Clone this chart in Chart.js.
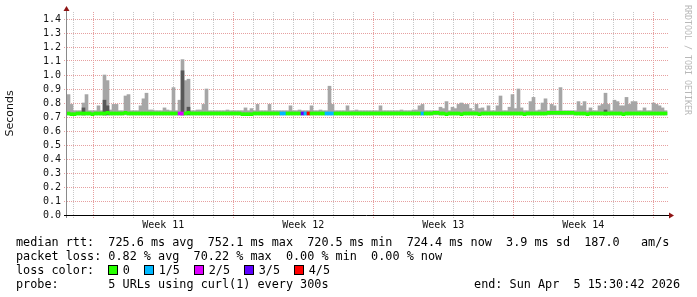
<!DOCTYPE html>
<html lang="en">
<head>
<meta charset="UTF-8">
<title>Smokeping median rtt</title>
<script src="https://cdn.jsdelivr.net/npm/chart.js"></script>
<style>
  body { margin: 0; background: #fff; }
  #wrap { position: relative; width: 697px; height: 297px; overflow: hidden; background: #fff; }
  #chart { position: absolute; left: 0; top: 0; }
  #legend { position: absolute; left: 16px; top: 235px; width: 670px; font-family: 'DejaVu Sans Mono', monospace; font-size: 11.8px; line-height: 14px; color: #000; }
  #legend div { position: relative; height: 14px; white-space: pre; }
  .box { display: inline-block; width: 8px; height: 8px; border: 1px solid #000; vertical-align: -1px; margin-right: 4.5px; }
  .end { position: absolute; right: 6px; top: 0; }
  #wm { position: absolute; left: 683px; top: 5px; writing-mode: vertical-rl; font-family: 'DejaVu Sans Mono', monospace; font-size: 8.3px; color: #b8b8b8; white-space: pre; }
</style>
</head>
<body>
<div id="wrap">
  <canvas id="chart" width="697" height="297"></canvas>
  <div id="wm">RRDTOOL / TOBI OETIKER</div>
  <div id="legend">
    <div>median rtt:  725.6 ms avg  752.1 ms max  720.5 ms min  724.4 ms now  3.9 ms sd  187.0   am/s</div>
    <div>packet loss: 0.82 % avg  70.22 % max  0.00 % min  0.00 % now</div>
    <div id="lossRow">loss color:  </div>
    <div>probe:       5 URLs using curl(1) every 300s<span class="end">end: Sun Apr  5 15:30:42 2026</span></div>
  </div>
</div>
<script>
// x axis: days from left edge of the graph, one bin = 3.6 h
const BIN_DAYS = 0.15;
const weekLabels = ['Week 11', 'Week 12', 'Week 13', 'Week 14'];

// top of the smoke per bin (seconds)
const smokeMax = [
  0.86, 0.79, 0.745, 0.745, 0.745, 0.80, 0.86, 0.745, 0.745, 0.745,
  0.78, 0.745, 1.00, 0.96, 0.75, 0.79, 0.79, 0.745, 0.745, 0.85,
  0.86, 0.745, 0.745, 0.745, 0.78, 0.83, 0.87, 0.75, 0.75, 0.745,
  0.745, 0.745, 0.765, 0.75, 0.745, 0.91, 0.745, 0.82, 1.11, 0.96,
  0.97, 0.745, 0.745, 0.75, 0.75, 0.79, 0.90, 0.745, 0.745, 0.745,
  0.745, 0.745, 0.745, 0.75, 0.745, 0.745, 0.745, 0.745, 0.745, 0.765,
  0.745, 0.76, 0.745, 0.79, 0.745, 0.745, 0.745, 0.79, 0.745, 0.745,
  0.745, 0.745, 0.745, 0.745, 0.78, 0.745, 0.745, 0.75, 0.745, 0.745,
  0.745, 0.78, 0.745, 0.745, 0.75, 0.745, 0.745, 0.92, 0.79, 0.745,
  0.745, 0.745, 0.745, 0.78, 0.745, 0.745, 0.75, 0.745, 0.745, 0.745,
  0.745, 0.745, 0.745, 0.745, 0.78, 0.745, 0.745, 0.745, 0.745, 0.745,
  0.745, 0.75, 0.745, 0.745, 0.745, 0.75, 0.75, 0.78, 0.79, 0.745,
  0.745, 0.745, 0.745, 0.745, 0.77, 0.76, 0.81, 0.745, 0.77, 0.76,
  0.79, 0.80, 0.79, 0.79, 0.76, 0.745, 0.79, 0.76, 0.765, 0.745,
  0.78, 0.745, 0.745, 0.78, 0.85, 0.745, 0.745, 0.77, 0.86, 0.76,
  0.90, 0.765, 0.745, 0.745, 0.81, 0.84, 0.745, 0.75, 0.80, 0.83,
  0.745, 0.79, 0.78, 0.745, 0.91, 0.745, 0.745, 0.745, 0.745, 0.745,
  0.81, 0.78, 0.81, 0.745, 0.765, 0.745, 0.745, 0.78, 0.79, 0.87,
  0.79, 0.745, 0.82, 0.81, 0.78, 0.78, 0.84, 0.79, 0.81, 0.81,
  0.745, 0.745, 0.765, 0.745, 0.745, 0.80, 0.79, 0.78, 0.765, 0.745
];
const smokeFloor = 0.715;

// denser smoke
const darkBins = [5, 12, 13, 38, 40, 179];
const darkTop = [0.765, 0.82, 0.78, 1.03, 0.77, 0.75];

// median rtt per bin (seconds)
const median = [
  0.725, 0.72, 0.72, 0.725, 0.725, 0.725, 0.725, 0.725, 0.72, 0.725,
  0.725, 0.725, 0.725, 0.73, 0.725, 0.725, 0.725, 0.725, 0.725, 0.73,
  0.725, 0.725, 0.725, 0.725, 0.725, 0.725, 0.725, 0.725, 0.725, 0.725,
  0.725, 0.725, 0.725, 0.725, 0.725, 0.725, 0.725, 0.725, 0.725, 0.725,
  0.73, 0.725, 0.725, 0.725, 0.725, 0.725, 0.725, 0.725, 0.725, 0.725,
  0.725, 0.725, 0.725, 0.725, 0.725, 0.725, 0.725, 0.725, 0.72, 0.72,
  0.72, 0.72, 0.725, 0.725, 0.725, 0.725, 0.725, 0.725, 0.725, 0.725,
  0.725, 0.725, 0.725, 0.725, 0.725, 0.725, 0.725, 0.725, 0.725, 0.725,
  0.725, 0.725, 0.725, 0.725, 0.725, 0.725, 0.725, 0.725, 0.725, 0.725,
  0.725, 0.725, 0.725, 0.725, 0.725, 0.725, 0.725, 0.725, 0.725, 0.725,
  0.725, 0.725, 0.725, 0.725, 0.725, 0.725, 0.725, 0.725, 0.725, 0.725,
  0.725, 0.725, 0.725, 0.725, 0.725, 0.725, 0.725, 0.725, 0.725, 0.725,
  0.725, 0.725, 0.73, 0.73, 0.725, 0.725, 0.72, 0.725, 0.725, 0.725,
  0.725, 0.72, 0.725, 0.725, 0.725, 0.725, 0.725, 0.72, 0.725, 0.725,
  0.725, 0.725, 0.725, 0.725, 0.725, 0.725, 0.725, 0.725, 0.725, 0.725,
  0.725, 0.725, 0.72, 0.725, 0.725, 0.725, 0.725, 0.725, 0.725, 0.725,
  0.73, 0.73, 0.73, 0.73, 0.73, 0.73, 0.73, 0.73, 0.73, 0.725,
  0.725, 0.725, 0.725, 0.72, 0.725, 0.725, 0.725, 0.725, 0.725, 0.725,
  0.725, 0.725, 0.725, 0.725, 0.725, 0.72, 0.725, 0.725, 0.725, 0.725,
  0.725, 0.725, 0.725, 0.725, 0.725, 0.725, 0.725, 0.725, 0.725, 0.725
];

// bins with packet loss and their loss level (n of 5 pings)
const lossBins = [37, 38, 71, 72, 78, 79, 80, 86, 87, 88, 118];
const lossLevels = [2, 2, 1, 1, 3, 1, 4, 1, 1, 1, 1];

const lossNames = ['0', '1/5', '2/5', '3/5', '4/5'];
const lossColors = ['#26ff00', '#00b8ff', '#dd00ff', '#5e00ff', '#ff0000'];

const RED_GRID = '#e6a0a0';
const GREY_GRID = '#c8c8c8';
const MEDIAN_HALF = 0.0107; // 3px thick median

// legend boxes
const lossRow = document.getElementById('lossRow');
lossNames.forEach((name, i) => {
  const b = document.createElement('span');
  b.className = 'box';
  b.style.background = lossColors[i];
  lossRow.appendChild(b);
  lossRow.appendChild(document.createTextNode(name + (i < lossNames.length - 1 ? '  ' : '')));
});

const binX = i => (i + 0.5) * BIN_DAYS;
const lossOf = i => {
  const k = lossBins.indexOf(i);
  return k < 0 ? 0 : lossLevels[k];
};

const smokeData = smokeMax.map((v, i) => ({ x: binX(i), y: [smokeFloor, v] }));
const darkData = darkBins.map((b, k) => ({ x: binX(b), y: [smokeFloor, darkTop[k]] }));
const medianData = median.map((v, i) => ({ x: binX(i), y: [v - MEDIAN_HALF, v + MEDIAN_HALF] }));
const medianColors = median.map((v, i) => lossColors[lossOf(i)]);

const axisArrows = {
  id: 'axisArrows',
  afterDatasetsDraw(chart) {
    const { ctx, chartArea: a } = chart;
    ctx.save();
    ctx.lineWidth = 1;
    ctx.strokeStyle = '#8a8a8a';
    ctx.beginPath();
    ctx.moveTo(a.left - 0.5, a.bottom + 3);
    ctx.lineTo(a.left - 0.5, a.top - 3);
    ctx.stroke();
    ctx.strokeStyle = '#000';
    ctx.beginPath();
    ctx.moveTo(a.left - 3, a.bottom + 0.5);
    ctx.lineTo(a.right + 1, a.bottom + 0.5);
    ctx.stroke();
    ctx.fillStyle = '#8e1414';
    ctx.beginPath();
    ctx.moveTo(a.left - 3.5, a.top - 1);
    ctx.lineTo(a.left + 2.5, a.top - 1);
    ctx.lineTo(a.left - 0.5, a.top - 6);
    ctx.closePath();
    ctx.fill();
    ctx.beginPath();
    ctx.moveTo(a.right + 1, a.bottom - 2.5);
    ctx.lineTo(a.right + 1, a.bottom + 3.5);
    ctx.lineTo(a.right + 6, a.bottom + 0.5);
    ctx.closePath();
    ctx.fill();
    ctx.restore();
  }
};

const mono10 = { family: "'DejaVu Sans Mono', monospace", size: 10 };

new Chart(document.getElementById('chart'), {
  type: 'bar',
  data: {
    datasets: [
      { data: medianData, backgroundColor: medianColors, order: 1 },
      { data: darkData, backgroundColor: '#585858', order: 2 },
      { data: smokeData, backgroundColor: '#a6a6a6', order: 3 }
    ]
  },
  options: {
    responsive: false,
    animation: false,
    events: [],
    layout: { padding: { top: 12, right: 29, bottom: 64, left: 0 } },
    datasets: {
      bar: { grouped: false, barPercentage: 1, categoryPercentage: 1, borderWidth: 0 }
    },
    plugins: { legend: { display: false }, tooltip: { enabled: false } },
    scales: {
      x: {
        type: 'linear',
        min: 0,
        max: 30.05,
        offset: false,
        afterBuildTicks: axis => {
          const t = [];
          for (let k = 0; 0.315 + k * 0.5 < 30.05; k++) t.push({ value: 0.315 + k * 0.5 });
          axis.ticks = t;
        },
        afterFit: s => { s.height = 18; },
        grid: {
          offset: false,
          lineWidth: 1,
          tickLength: 3,
          tickBorderDash: [1, 1],
          color: c => {
            const k = c.index;
            if (k === undefined || k % 2) return 'rgba(0,0,0,0)';
            return ((k / 2) - 1) % 7 === 0 ? RED_GRID : GREY_GRID;
          }
        },
        border: { display: false, dash: [1, 1] },
        ticks: {
          autoSkip: false,
          maxRotation: 0,
          padding: 1,
          color: '#111',
          font: mono10,
          callback: (v, k) => {
            if ((k - 9) % 14 !== 0) return '';
            return weekLabels[(k - 9) / 14] || '';
          }
        }
      },
      y: {
        min: 0,
        max: 1.45,
        afterFit: s => { s.width = 67; },
        grid: { color: RED_GRID, lineWidth: 1, tickLength: 3, tickBorderDash: [1, 1] },
        border: { display: false, dash: [1, 1] },
        ticks: {
          stepSize: 0.1,
          maxTicksLimit: 30,
          autoSkip: false,
          includeBounds: false,
          padding: 3,
          color: '#111',
          font: mono10,
          callback: v => v.toFixed(1)
        },
        title: {
          display: true,
          text: 'Seconds',
          color: '#111',
          font: { family: "'DejaVu Sans', sans-serif", size: 11 }
        }
      }
    }
  },
  plugins: [axisArrows]
});
</script>
</body>
</html>
